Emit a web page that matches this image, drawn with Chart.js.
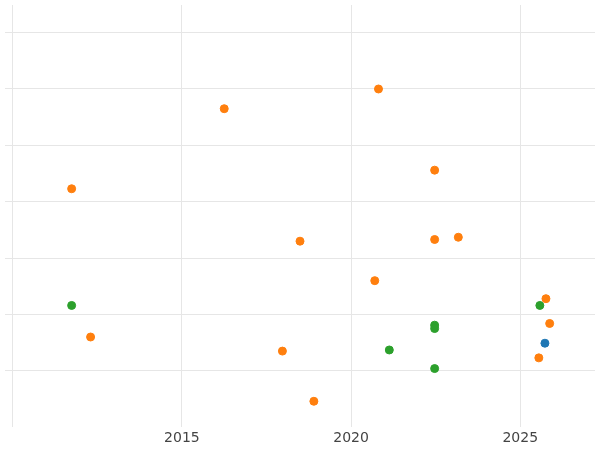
<!DOCTYPE html>
<html>
<head>
<script src="https://cdn.jsdelivr.net/npm/chart.js@4/dist/chart.umd.min.js"></script>
<style>body{margin:0;background:#fff}#wrap{width:600px;height:450px}</style>
</head>
<body>
<div id="wrap"><canvas id="c"></canvas></div>
<script>
const orangeX = [2020.81, 2016.25, 2022.47, 2011.74, 2018.49, 2022.47, 2023.17, 2020.70, 2025.76, 2025.87, 2012.30, 2017.97, 2025.55, 2018.90];
const orangeY = [6.0, 5.65, 4.56, 4.23, 3.30, 3.33, 3.37, 2.60, 2.28, 1.84, 1.60, 1.35, 1.23, 0.46];
const greenX = [2011.74, 2025.58, 2022.47, 2022.47, 2021.13, 2022.47];
const greenY = [2.16, 2.16, 1.81, 1.75, 1.37, 1.04];
const blueX = [2025.73];
const blueY = [1.49];
const xTicks = [2010, 2015, 2020, 2025];

const pts = (xs, ys) => xs.map((x, i) => ({ x, y: ys[i] }));
const ds = (xs, ys, color) => ({
  data: pts(xs, ys), backgroundColor: color, borderColor: color,
  pointRadius: 4, pointHoverRadius: 4
});

new Chart(document.getElementById('c'), {
  type: 'scatter',
  data: {
    datasets: [
      ds(orangeX, orangeY, '#ff7f0e'),
      ds(greenX, greenY, '#2ca02c'),
      ds(blueX, blueY, '#1f77b4'),
    ],
  },
  options: {
    responsive: true,
    maintainAspectRatio: false,
    animation: false,
    layout: { padding: { left: -4, right: -5, top: -5, bottom: 0 } },
    plugins: { legend: { display: false }, tooltip: { enabled: false } },
    scales: {
      x: {
        type: 'linear', min: 2009.77, max: 2027.21,
        afterBuildTicks: s => { s.ticks = xTicks.map(v => ({ value: v })); },
        ticks: {
          callback: v => (v === 2010 ? '' : v),
          font: { family: 'DejaVu Sans', size: 14 }, color: '#444',
        },
        grid: { color: '#e6e6e6', drawTicks: false },
        border: { display: false },
      },
      y: {
        min: 0, max: 7.49,
        afterBuildTicks: s => { s.ticks = [1, 2, 3, 4, 5, 6, 7].map(v => ({ value: v })); },
        ticks: { display: false },
        grid: { color: '#e6e6e6', drawTicks: false },
        border: { display: false },
      },
    },
  },
});
</script>
</body>
</html>
